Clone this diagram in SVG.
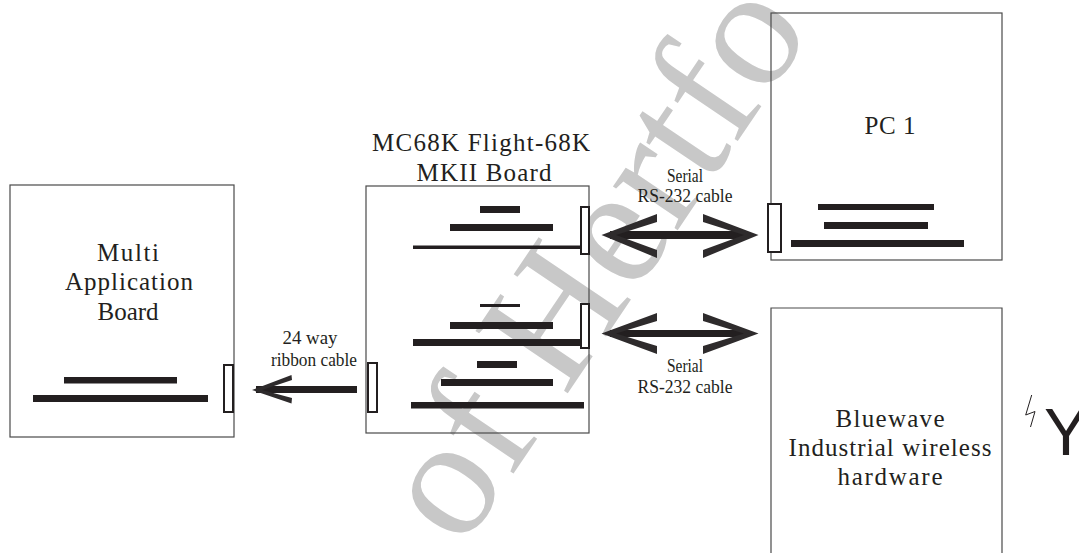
<svg xmlns="http://www.w3.org/2000/svg" width="1079" height="553" viewBox="0 0 1079 553">
<style>
.box{fill:none;stroke:#4a4a4a;stroke-width:1.2}
.bar{fill:#231f20}
.conn{fill:#fff;stroke:#231f20;stroke-width:2}
.big{font-family:"Liberation Serif","Times New Roman",serif;font-size:25px;fill:#231f20;text-anchor:middle}
.small{font-family:"Liberation Serif","Times New Roman",serif;font-size:18.5px;fill:#231f20;text-anchor:middle}
.head{fill:#2e2b2c}
.wm{font-family:"Liberation Serif","Times New Roman",serif;font-size:170px;fill:#c8c8c8}
</style>
<rect width="1079" height="553" fill="#fff"/>
<text class="wm" transform="translate(462,550) rotate(-56)">of Hertfo</text>

<g id="multi-app-board">
<rect class="box" x="10" y="185" width="224" height="252"/>
<text class="big" x="128" y="261" textLength="62" lengthAdjust="spacing">Multi</text>
<text class="big" x="129" y="290" textLength="128" lengthAdjust="spacing">Application</text>
<text class="big" x="128" y="320" textLength="61" lengthAdjust="spacing">Board</text>
<rect class="bar" x="64" y="377" width="113" height="6.5"/>
<rect class="bar" x="33" y="395" width="175" height="7"/>
<rect class="conn" x="224" y="365" width="9" height="47"/>
</g>

<g id="mc68k-board">
<text class="big" x="481" y="151" textLength="218" lengthAdjust="spacing">MC68K Flight-68K</text>
<text class="big" x="484" y="181" textLength="135" lengthAdjust="spacing">MKII Board</text>
<rect class="box" x="366" y="186" width="223" height="247"/>
<rect class="bar" x="480" y="206" width="40" height="7"/>
<rect class="bar" x="450" y="224" width="103" height="7"/>
<rect class="bar" x="413" y="245.5" width="174" height="3.5"/>
<rect class="conn" x="581" y="207" width="8" height="47"/>
<rect class="bar" x="480" y="304" width="40" height="3"/>
<rect class="bar" x="450" y="322" width="103" height="7"/>
<rect class="bar" x="413" y="339" width="175" height="7"/>
<rect class="conn" x="581" y="304" width="8" height="44"/>
<rect class="bar" x="477" y="361" width="40" height="7"/>
<rect class="bar" x="441" y="379" width="112" height="7"/>
<rect class="bar" x="411" y="402" width="173" height="6.5"/>
<rect class="conn" x="368" y="363" width="9" height="49"/>
</g>

<g id="pc1">
<rect class="box" x="771" y="13" width="231" height="247"/>
<text class="big" x="890" y="134" textLength="51" lengthAdjust="spacing">PC 1</text>
<rect class="bar" x="818" y="204" width="116" height="6"/>
<rect class="bar" x="824" y="222" width="104" height="7"/>
<rect class="bar" x="791" y="240" width="173" height="7"/>
<rect class="conn" x="768" y="204" width="13" height="48"/>
</g>

<g id="bluewave">
<path class="box" d="M771,560 V308 H1002 V560"/>
<text class="big" x="890" y="427" textLength="109" lengthAdjust="spacing">Bluewave</text>
<text class="big" x="890" y="456" textLength="203" lengthAdjust="spacing">Industrial wireless</text>
<text class="big" x="890" y="485" textLength="105" lengthAdjust="spacing">hardware</text>
</g>

<g id="antenna">
<polyline points="1031.7,395 1025.7,415 1035,411.5 1030.5,427" fill="none" stroke="#231f20" stroke-width="1"/>
<text x="1044" y="455" font-family="Liberation Sans, Arial, sans-serif" font-size="66" fill="#231f20">Y</text>
</g>

<g id="connectors">
<g id="ribbon-cable">
<rect class="bar" x="256" y="386" width="101" height="7"/>
<polygon class="head" points="252,390 291.5,375 292,380 262,390 292,398 291.5,403.5"/>
<text class="small" x="310" y="344" textLength="55" lengthAdjust="spacingAndGlyphs">24 way</text>
<text class="small" x="314" y="366" textLength="86" lengthAdjust="spacingAndGlyphs">ribbon cable</text>
</g>
<g id="serial-pc">
<rect class="bar" x="610" y="231" width="135" height="8"/>
<polygon class="head" points="601.5,235 657,214 657,222 616,235 657,250 657,258"/>
<polygon class="head" points="758.5,235 703,214 703,222 744,235 703,250 703,258"/>
<text class="small" x="685" y="181.5" textLength="36" lengthAdjust="spacingAndGlyphs">Serial</text>
<text class="small" x="685" y="201.5" textLength="95" lengthAdjust="spacingAndGlyphs">RS-232 cable</text>
</g>
<g id="serial-bluewave">
<rect class="bar" x="610" y="330" width="135" height="7"/>
<polygon class="head" points="601.5,333.5 657,313 657,321 616,333.5 657,346 657,354"/>
<polygon class="head" points="758.5,333.5 703,313 703,321 744,333.5 703,346 703,354"/>
<text class="small" x="685" y="372" textLength="36" lengthAdjust="spacingAndGlyphs">Serial</text>
<text class="small" x="685" y="393" textLength="95" lengthAdjust="spacingAndGlyphs">RS-232 cable</text>
</g>
</g>
</svg>
